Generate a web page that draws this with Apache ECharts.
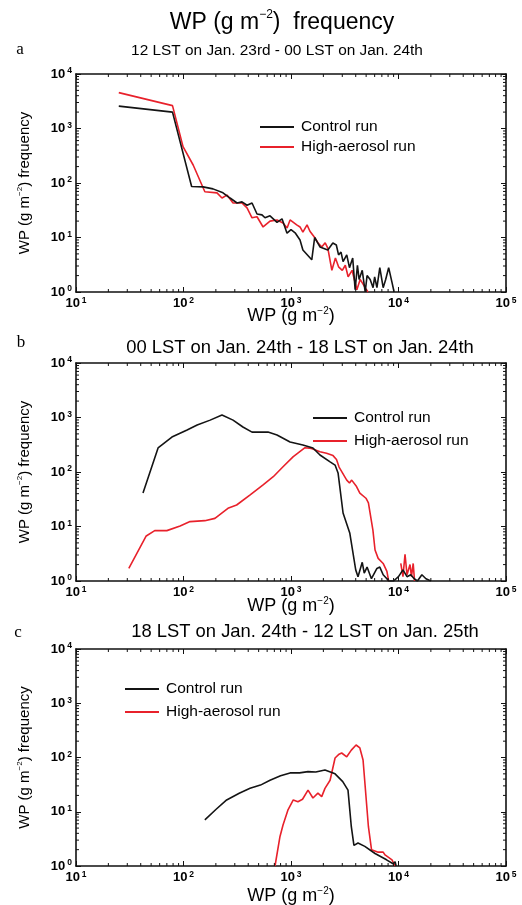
<!DOCTYPE html>
<html><head><meta charset="utf-8">
<script src="https://cdn.jsdelivr.net/npm/echarts@6/dist/echarts.min.js"></script>
<style>html,body{margin:0;padding:0;background:#fff}#c{width:522px;height:905px}</style>
</head><body><div id="c"></div>
<script>
// ---------- DATA ----------
const seriesNames = ['Control run', 'High-aerosol run'];
const panelLetters = ['a', 'b', 'c'];
const panelTitles = [
  '12 LST on Jan. 23rd - 00 LST on Jan. 24th',
  '00 LST on Jan. 24th - 18 LST on Jan. 24th',
  '18 LST on Jan. 24th - 12 LST on Jan. 25th'
];
const xTickExponents = [1, 2, 3, 4, 5];
const yTickExponents = [0, 1, 2, 3, 4];

// Panel a
const aCtrlX = [25, 79, 119, 152, 188, 233, 271, 315, 350, 390, 434, 483, 537, 573, 638, 741, 825, 918, 1000, 1100, 1213, 1290, 1560, 1660, 1860, 2200, 2450, 2640, 2770, 2920, 3050, 3300, 3500, 3750, 3950, 4150, 4300, 4600, 4900, 5100, 5450, 5800, 6000, 6300, 6700, 7200, 7600, 8100, 8700, 9100];
const aCtrlY = [2570, 2000, 86, 85, 78, 66, 53, 43, 45, 39, 43, 27, 26, 23, 25, 19, 22, 12, 14, 12, 9, 5.9, 3.9, 10, 6.7, 5.9, 7.9, 7.3, 4.8, 5.4, 3.6, 4.8, 2.8, 4.2, 1.1, 3.1, 1.7, 2.5, 1, 2, 1.7, 1.2, 1.9, 1.2, 2.8, 1.2, 1.7, 2.8, 1.5, 1];
const aHighX = [25, 79, 99, 123, 158, 205, 228, 254, 289, 350, 390, 434, 483, 550, 638, 741, 843, 920, 980, 1130, 1213, 1290, 1410, 1500, 1660, 1780, 1930, 2080, 2200, 2400, 2590, 2770, 3000, 3200, 3400, 3700, 4100, 4400, 4900, 5200];
const aHighY = [4550, 2630, 465, 214, 69, 66, 53, 60, 43, 43, 35, 23, 24, 15.6, 20, 21, 18.5, 15, 21, 17, 15.6, 12.6, 17, 13, 10, 8, 6.7, 8, 6.4, 2.5, 4.2, 2.9, 2.5, 3.1, 1.9, 2.5, 1.1, 1.7, 1.2, 1];

// Panel b
const bCtrlX = [42, 58, 78, 108, 134, 177, 228, 289, 357, 434, 611, 741, 980, 1290, 1600, 1860, 2310, 2570, 2740, 3050, 3520, 4000, 4200, 4600, 4800, 5100, 5600, 6300, 6700, 7200, 7800, 8100, 9000, 10000, 11000, 12000, 13000, 14000, 15000, 16500, 18000, 20000];
const bCtrlY = [41, 276, 438, 590, 726, 895, 1110, 895, 670, 540, 540, 478, 356, 313, 276, 205, 153, 134, 96, 17.7, 7.6, 1.6, 1.2, 2.2, 1.4, 1.8, 1.1, 1.7, 1.8, 1.3, 1.1, 1, 1, 1.2, 1.6, 1.2, 1.3, 1.1, 1, 1.3, 1.1, 1];
const bHighX = [31, 45, 54, 70, 93, 115, 158, 196, 259, 312, 417, 550, 684, 843, 1050, 1350, 1550, 1860, 2140, 2460, 2650, 2800, 3300, 3500, 3670, 4070, 4370, 4980, 5250, 5780, 6050, 6470, 7200, 7800, 8100, 10000, 10500, 11000, 11500, 12000, 12800, 13200, 13700, 14100];
const bHighY = [1.7, 6.7, 8.4, 8.4, 10.2, 12.3, 12.8, 14.1, 21.6, 24.8, 38, 58, 82, 125, 191, 279, 271, 236, 220, 200, 170, 123, 71, 63, 71, 54, 41, 33, 27, 8.6, 3.7, 2.6, 2.1, 1.5, 1, null, 2.1, 1.2, 3.1, 1.3, 2, 1.2, 2.1, 1];

// Panel c
const cCtrlX = [158, 200, 252, 330, 416, 520, 638, 800, 980, 1200, 1440, 1700, 2070, 2570, 3030, 3390, 3640, 3850, 4200, 4860, 6050, 7740, 8900, 9300, 9500];
const cCtrlY = [7.1, 11, 16.5, 22, 27, 31, 38, 46, 52, 52, 55, 54, 59, 50, 36, 25, 5.3, 2.4, 2.65, 2.3, 1.7, 1.3, 1.1, 1.2, 1];
const cHighX = [710, 790, 843, 935, 1050, 1160, 1280, 1440, 1600, 1780, 1930, 2070, 2310, 2570, 2800, 2960, 3300, 3640, 4030, 4370, 4680, 5250, 5610, 6470, 7200, 7500, 8700, 9300];
const cHighY = [1, 3.5, 5.7, 10.7, 16.5, 15.3, 17, 25, 17.9, 22, 19, 27, 38, 98, 115, 121, 103, 137, 170, 150, 90, 5.3, 2, 1.8, 1.8, 1.6, 1.3, 1];

const panels = [
  { ctrlX: aCtrlX, ctrlY: aCtrlY, highX: aHighX, highY: aHighY },
  { ctrlX: bCtrlX, ctrlY: bCtrlY, highX: bHighX, highY: bHighY },
  { ctrlX: cCtrlX, ctrlY: cCtrlY, highX: cHighX, highY: cHighY }
];

// ---------- LAYOUT / STYLE ----------
const FONT = 'Liberation Sans';
const SERIF = 'Liberation Serif';
const BLACK = '#141414';
const RED = '#e8212b';
const gridTops = [74, 363, 649];
const gridHeights = [218, 218, 217];
const gridLeft = 76, gridWidth = 430;
const xNameGaps = [14, 15, 20];
const legendPos = [[260, 119], [313, 410], [125, 681]];
const legendGaps = [4, 7, 7];
const letterPos = [[20, 50], [21, 343], [18, 633]];
const subPos = [[277, 51], [300, 348], [305, 632]];
const subSizes = [15.4, 18.4, 18.4];

const X_MIN = Math.pow(10, xTickExponents[0]), X_MAX = Math.pow(10, xTickExponents[xTickExponents.length - 1]);
const Y_MIN = Math.pow(10, yTickExponents[0]), Y_MAX = Math.pow(10, yTickExponents[yTickExponents.length - 1]);

function pairs(xs, ys) { return xs.map((x, i) => [x, ys[i] === null ? '-' : ys[i]]); }

const tickRich = {
  b: { fontFamily: FONT, fontWeight: 'bold', fontSize: 13, color: '#000', lineHeight: 15 },
  s: { fontFamily: FONT, fontWeight: 'bold', fontSize: 8.5, color: '#000', lineHeight: 8, verticalAlign: 'top', padding: [0, 0, 0, 2] }
};
function tickFmt(v) { return '{b|10}{s|' + Math.round(Math.log10(v)) + '}'; }
const nameRich = {
  t: { fontFamily: FONT, fontSize: 18, color: '#000', lineHeight: 21 },
  s: { fontFamily: FONT, fontSize: 10, color: '#000', lineHeight: 11, verticalAlign: 'top' }
};
const yNameRich = {
  t: { fontFamily: FONT, fontSize: 15, color: '#000', lineHeight: 18 },
  s: { fontFamily: FONT, fontSize: 8, color: '#000', lineHeight: 9, verticalAlign: 'top' }
};

// minor tick positions (2..9 x each decade)
const xMinor = [], yMinor = [];
for (let e = xTickExponents[0]; e < xTickExponents[xTickExponents.length - 1]; e++) for (let k = 2; k <= 9; k++) xMinor.push(k * Math.pow(10, e));
for (let e = yTickExponents[0]; e < yTickExponents[yTickExponents.length - 1]; e++) for (let k = 2; k <= 9; k++) yMinor.push(k * Math.pow(10, e));
const minorData = xMinor.map(v => [v, Y_MIN, 0]).concat(yMinor.map(v => [X_MIN, v, 1]));

const axisLineStyle = { color: '#111', width: 1.6 };

const grid = [], xAxis = [], yAxis = [], series = [], legend = [];
panels.forEach((p, i) => {
  grid.push({ left: gridLeft, width: gridWidth, top: gridTops[i], height: gridHeights[i], containLabel: false, outerBoundsMode: 'none' });
  const xb = xAxis.length, yb = yAxis.length;
  xAxis.push({
    type: 'log', logBase: 10, gridIndex: i, min: X_MIN, max: X_MAX, position: 'bottom',
    axisLine: { show: true, lineStyle: axisLineStyle },
    axisTick: { show: true, inside: true, length: 5, lineStyle: { color: '#111', width: 1 } },
    splitLine: { show: false },
    axisLabel: { show: true, formatter: tickFmt, rich: tickRich, margin: 4, showMinLabel: true, showMaxLabel: true },
    name: '{t|WP (g m}{s|−2}{t|)}', nameLocation: 'middle', nameGap: xNameGaps[i], nameMoveOverlap: false,
    nameTextStyle: { rich: nameRich }
  });
  xAxis.push({
    type: 'log', logBase: 10, gridIndex: i, min: X_MIN, max: X_MAX, position: 'top',
    axisLine: { show: true, lineStyle: axisLineStyle },
    axisTick: { show: true, inside: true, length: 5, lineStyle: { color: '#111', width: 1 } },
    splitLine: { show: false }, axisLabel: { show: false }
  });
  yAxis.push({
    type: 'log', logBase: 10, gridIndex: i, min: Y_MIN, max: Y_MAX, position: 'left',
    axisLine: { show: true, lineStyle: axisLineStyle },
    axisTick: { show: true, inside: true, length: 5, lineStyle: { color: '#111', width: 1 } },
    splitLine: { show: false },
    axisLabel: { show: true, formatter: tickFmt, rich: tickRich, margin: 4, showMinLabel: true, showMaxLabel: true },
    name: '{t|WP (g m}{s|−2}{t|) frequency}', nameLocation: 'middle', nameRotate: 90, nameGap: 42, nameMoveOverlap: false,
    nameTextStyle: { rich: yNameRich }
  });
  yAxis.push({
    type: 'log', logBase: 10, gridIndex: i, min: Y_MIN, max: Y_MAX, position: 'right',
    axisLine: { show: true, lineStyle: axisLineStyle },
    axisTick: { show: true, inside: true, length: 5, lineStyle: { color: '#111', width: 1 } },
    splitLine: { show: false }, axisLabel: { show: false }
  });
  series.push({
    name: seriesNames[0], type: 'line', xAxisIndex: xb, yAxisIndex: yb,
    data: pairs(p.ctrlX, p.ctrlY), showSymbol: false, symbol: 'none',
    lineStyle: { color: BLACK, width: 1.6 }, itemStyle: { color: BLACK }, clip: true, z: 3
  });
  series.push({
    name: seriesNames[1], type: 'line', xAxisIndex: xb, yAxisIndex: yb,
    data: pairs(p.highX, p.highY), showSymbol: false, symbol: 'none',
    lineStyle: { color: RED, width: 1.6 }, itemStyle: { color: RED }, clip: true, z: 2
  });
  series.push({
    type: 'custom', xAxisIndex: xb, yAxisIndex: yb, silent: true, clip: false, z: 4,
    encode: { x: 0, y: 1 }, data: minorData,
    renderItem: function (params, api) {
      const v0 = api.value(0), v1 = api.value(1), t = api.value(2);
      const L = 3;
      const st = { stroke: '#111', lineWidth: 1 };
      if (t === 0) {
        const a = api.coord([v0, Y_MIN]), b = api.coord([v0, Y_MAX]);
        return { type: 'group', children: [
          { type: 'line', shape: { x1: a[0], y1: a[1], x2: a[0], y2: a[1] - L }, style: st },
          { type: 'line', shape: { x1: b[0], y1: b[1], x2: b[0], y2: b[1] + L }, style: st }
        ] };
      }
      const a = api.coord([X_MIN, v1]), b = api.coord([X_MAX, v1]);
      return { type: 'group', children: [
        { type: 'line', shape: { x1: a[0], y1: a[1], x2: a[0] + L, y2: a[1] }, style: st },
        { type: 'line', shape: { x1: b[0], y1: b[1], x2: b[0] - L, y2: b[1] }, style: st }
      ] };
    }
  });
  legend.push({
    orient: 'vertical', left: legendPos[i][0], top: legendPos[i][1], data: seriesNames, padding: 0,
    icon: 'rect', itemWidth: 34, itemHeight: 2, itemGap: legendGaps[i], selectedMode: false,
    textStyle: { fontFamily: FONT, fontSize: 15.5, color: '#000', padding: [0, 0, 0, 2] }
  });
});

const graphic = [
  { type: 'text', x: 282, y: 23, style: {
      text: '{t|WP (g m}{s|−2}{t|)  frequency}', align: 'center', verticalAlign: 'middle', fill: '#000',
      rich: { t: { fontFamily: FONT, fontSize: 23, fill: '#000', lineHeight: 28 },
              s: { fontFamily: FONT, fontSize: 12, fill: '#000', lineHeight: 14, verticalAlign: 'top' } } } }
];
panelLetters.forEach((l, i) => {
  graphic.push({ type: 'text', x: letterPos[i][0], y: letterPos[i][1], style: {
    text: l, font: '17px "' + SERIF + '"', fill: '#000', align: 'center', verticalAlign: 'middle' } });
  graphic.push({ type: 'text', x: subPos[i][0], y: subPos[i][1], style: {
    text: panelTitles[i], font: subSizes[i] + 'px "' + FONT + '"', fill: '#000', align: 'center', verticalAlign: 'middle' } });
});

const chart = echarts.init(document.getElementById('c'), null, { renderer: 'canvas' });
chart.setOption({
  animation: false, backgroundColor: '#fff',
  grid, xAxis, yAxis, series, legend, graphic
});
</script></body></html>
